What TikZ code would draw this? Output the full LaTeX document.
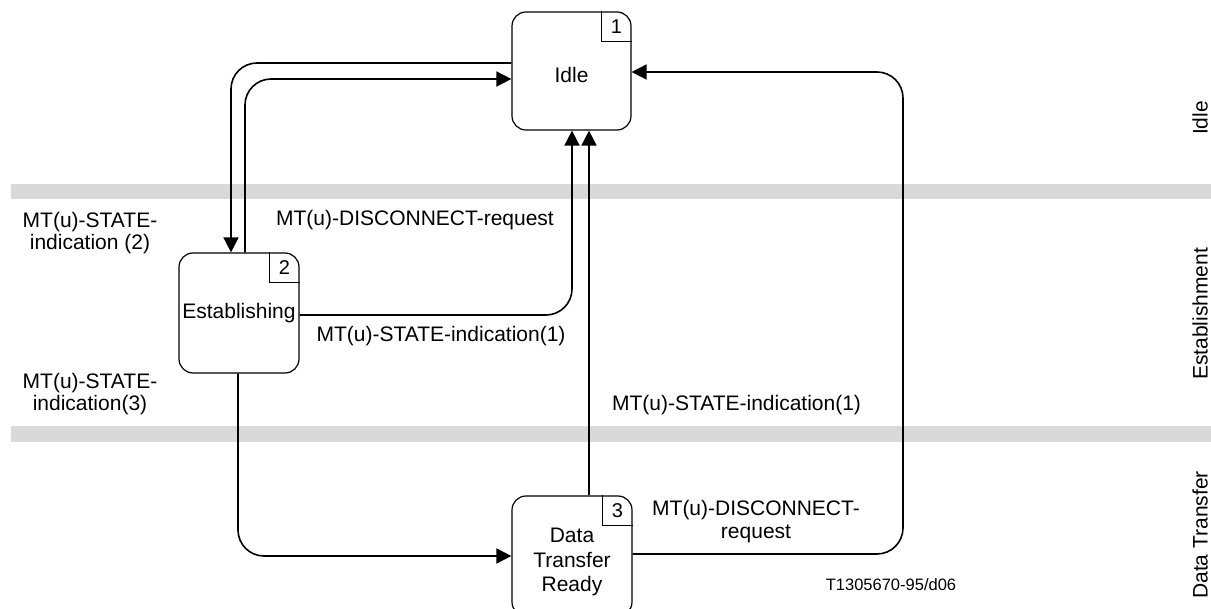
\documentclass[tikz,border=0pt]{standalone}
\usepackage{fontspec}
\setmainfont{Liberation Sans}
\usetikzlibrary{arrows.meta}
\definecolor{bandgray}{RGB}{217,217,217}
\begin{document}
\begin{tikzpicture}[x=1pt,y=-1pt,
  state/.style={draw, line width=1.2pt, rounded corners=14pt, minimum width=119pt, minimum height=118pt, inner sep=0pt, font=\fontsize{21}{24}\selectfont, align=center},
  numbox/.style={minimum size=30pt, inner sep=0pt, anchor=north east, font=\fontsize{20}{23}\selectfont},
  numline/.style={line width=1.2pt},
  conn/.style={line width=1.6pt, rounded corners=26pt},
  arr/.style={-{Triangle[length=15pt,width=15pt]}},
  lbl/.style={font=\fontsize{21}{23}\selectfont, align=center, inner sep=0pt},
  lbll/.style={font=\fontsize{21}{22}\selectfont, align=center, inner sep=0pt},
  band/.style={fill=bandgray, draw=none}
]
\useasboundingbox (0,0) rectangle (1211,609);
% bands
\fill[band] (11,184) rectangle (1211,199);
\fill[band] (11,426) rectangle (1211,442);
% states
\node[state] (idle) at (571.5,71) {};
\node[lbl] (idlet) at (571.5,75) {Idle};
\node[state, minimum width=120pt, minimum height=120pt] (est) at (239,313) {Establishing};
\node[state, minimum width=120pt, minimum height=120pt] (dtr) at (572,556) {};
\node[lbl, font=\fontsize{21}{24.5}\selectfont] (dtrt) at (572,562) {Data\\Transfer\\Ready};
% number boxes
\node[numbox] (n1) at (idle.north east) {1};
\draw[numline] (n1.north west) -- (n1.south west) -- (n1.south east);
\node[numbox] (n2) at (est.north east) {2};
\draw[numline] (n2.north west) -- (n2.south west) -- (n2.south east);
\node[numbox] (n3) at (dtr.north east) {3};
\draw[numline] (n3.north west) -- (n3.south west) -- (n3.south east);
% connectors
\draw[conn,arr] (idle.west |- 0,63) -- (231,63) -- (est.north -| 231,0);
\draw[conn,arr] (est.north -| 245,0) -- (245,79) -- (idle.west |- 0,79);
\draw[conn,arr] (est.east |- 0,315) -- (572,315) -- (idle.south -| 572,0);
\draw[conn,arr] (dtr.north -| 589,0) -- (idle.south -| 589,0);
\draw[conn,arr] (dtr.east |- 0,554) -- (903,554) -- (903,72) -- (idle.east |- 0,72);
\draw[conn,arr] (est.south -| 238,0) -- (238,556) -- (dtr.west |- 0,556);
% labels
\node[lbll] (l1) at (90,233) {MT(u)-STATE-\\indication (2)};
\node[lbll] (l2) at (90,394) {MT(u)-STATE-\\indication(3)};
\node[lbl] (l3) at (415,220) {MT(u)-DISCONNECT-request};
\node[lbl] (l4) at (441,336) {MT(u)-STATE-indication(1)};
\node[lbl] (l5) at (736.5,405) {MT(u)-STATE-indication(1)};
\node[lbl] (l6) at (756,521.5) {MT(u)-DISCONNECT-\\request};
\node[lbl, font=\fontsize{16.5}{19}\selectfont] (l7) at (891,585) {T1305670-95/d06};
% phase labels
\node[lbl, rotate=90] (p1) at (1200,118) {Idle};
\node[lbl, rotate=90] (p2) at (1200,314) {Establishment};
\node[lbl, rotate=90] (p3) at (1200,535) {Data Transfer};
\end{tikzpicture}
\end{document}
